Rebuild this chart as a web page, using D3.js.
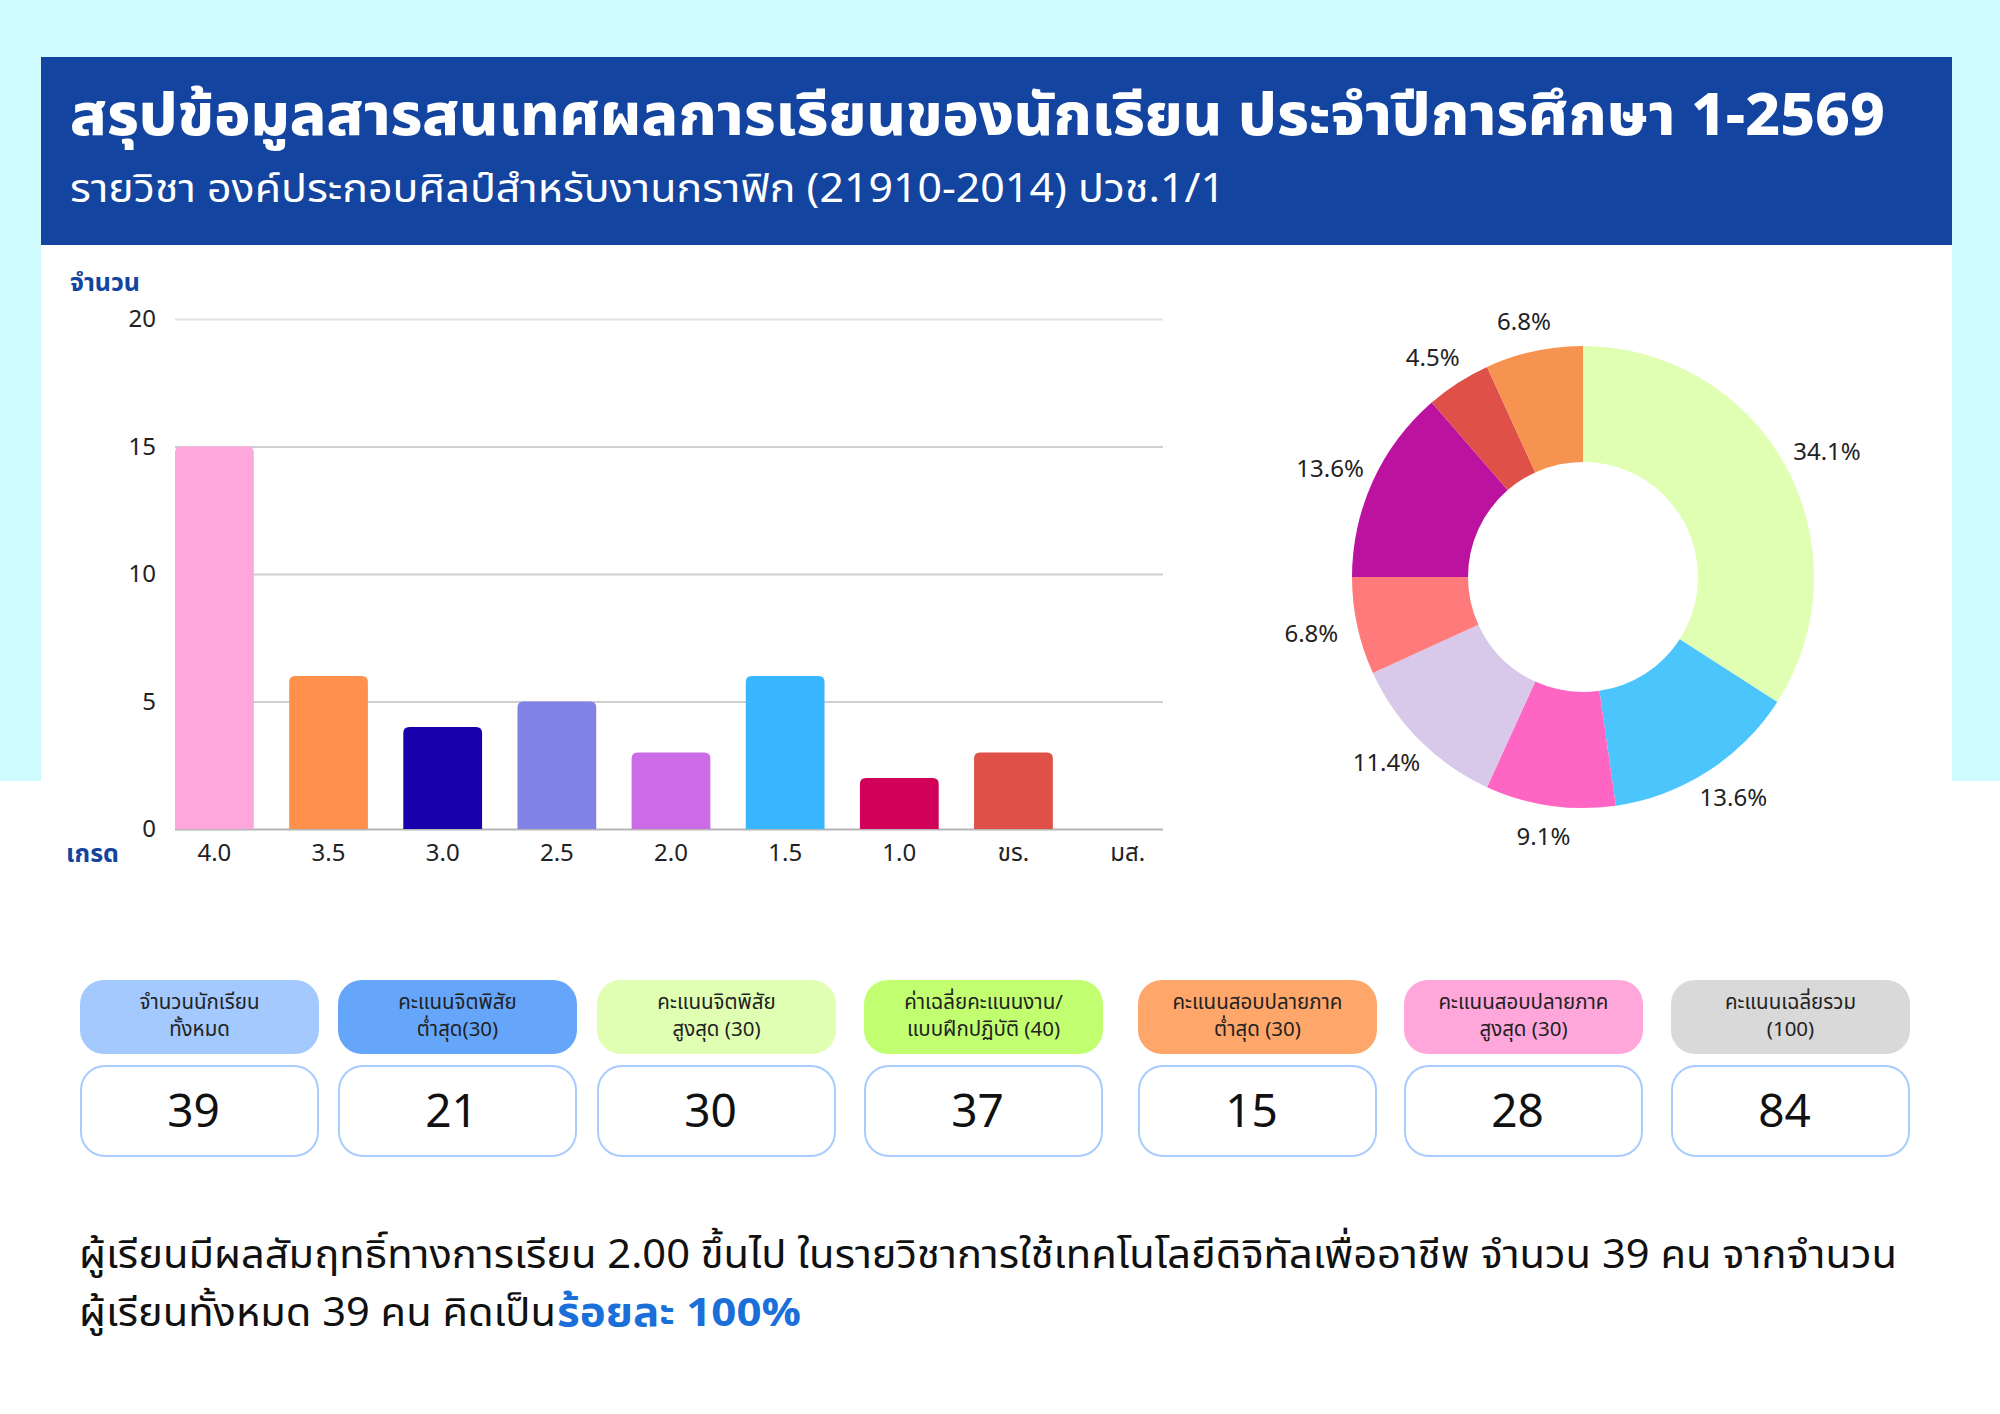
<!DOCTYPE html>
<html>
<head>
<meta charset="utf-8">
<script src="https://cdn.jsdelivr.net/npm/d3@7"></script>
<style>
  html, body { margin: 0; padding: 0; background: #ffffff; }
  svg { display: block; }
  text { font-family: "Noto Sans Thai", "Noto Sans Thai Looped", "Noto Sans", sans-serif; }
</style>
</head>
<body>
<div id="chart"></div>
<script>
// ---- data ----
const grades = ["4.0", "3.5", "3.0", "2.5", "2.0", "1.5", "1.0", "ขร.", "มส."];
const counts = [15, 6, 4, 5, 3, 6, 2, 3, 0];
const barColors = ["#fda7dc", "#ff914d", "#1800ad", "#8181e6", "#cb6ce6", "#38b6ff", "#d10058", "#df5049", "#999999"];
const pieColors = ["#e0ffb3", "#4cc5fc", "#ff66c4", "#d8c8ea", "#ff7a7a", "#bb13a0", "#df5049", "#f69351"];
const yTicks = [0, 5, 10, 15, 20];

const statLabels = [
  ["จำนวนนักเรียน", "ทั้งหมด"],
  ["คะแนนจิตพิสัย", "ต่ำสุด(30)"],
  ["คะแนนจิตพิสัย", "สูงสุด (30)"],
  ["ค่าเฉลี่ยคะแนนงาน/", "แบบฝึกปฏิบัติ (40)"],
  ["คะแนนสอบปลายภาค", "ต่ำสุด (30)"],
  ["คะแนนสอบปลายภาค", "สูงสุด (30)"],
  ["คะแนนเฉลี่ยรวม", "(100)"]
];
const statValues = [39, 21, 30, 37, 15, 28, 84];
const statColors = ["#a3c9ff", "#66a6fa", "#e0ffb3", "#c2ff70", "#ffa66b", "#ffa6da", "#d9d9d9"];

const title = "สรุปข้อมูลสารสนเทศผลการเรียนของนักเรียน ประจำปีการศึกษา 1-2569";
const subtitle = "รายวิชา องค์ประกอบศิลป์สำหรับงานกราฟิก (21910-2014) ปวช.1/1";
const summary1 = "ผู้เรียนมีผลสัมฤทธิ์ทางการเรียน 2.00 ขึ้นไป ในรายวิชาการใช้เทคโนโลยีดิจิทัลเพื่ออาชีพ จำนวน 39 คน จากจำนวน";
const summary2 = "ผู้เรียนทั้งหมด 39 คน คิดเป็น";
const summary2b = "ร้อยละ 100%";

// ---- page ----
const W = 2000, H = 1414;
const svg = d3.select("#chart").append("svg").attr("width", W).attr("height", H);

svg.append("rect").attr("width", W).attr("height", 781).attr("fill", "#cffafe");
svg.append("rect").attr("x", 41).attr("y", 57).attr("width", 1911).attr("height", H - 57).attr("fill", "#ffffff");
svg.append("rect").attr("x", 41).attr("y", 57).attr("width", 1911).attr("height", 188).attr("fill", "#1244a0");

svg.append("text").attr("x", 70).attr("y", 135)
  .attr("textLength", 1815).attr("lengthAdjust", "spacingAndGlyphs")
  .attr("fill", "#fff").attr("font-size", 58).attr("font-weight", 800).text(title);
svg.append("text").attr("x", 70).attr("y", 202)
  .attr("textLength", 1155).attr("lengthAdjust", "spacingAndGlyphs")
  .attr("fill", "#fff").attr("font-size", 40).text(subtitle);

// ---- bar chart ----
const x = d3.scaleBand().domain(grades).range([175, 1167]).paddingInner(0.31).paddingOuter(0);
const y = d3.scaleLinear().domain([0, 20]).range([829, 319]);

const yAxis = svg.append("g").attr("transform", "translate(175,0)")
  .call(d3.axisLeft(y).tickValues(yTicks).tickSize(-988).tickPadding(19));
yAxis.select(".domain").remove();
yAxis.selectAll(".tick line").attr("stroke", (d) => d === 0 ? "#b5b5b5" : (d === 20 ? "#e3e3e3" : "#cfcfcf")).attr("stroke-width", 2);
yAxis.selectAll(".tick text").attr("font-size", 24).attr("fill", "#222");

const topRounded = (x0, y0, w, h, r) => {
  if (h <= 0) return "";
  r = Math.min(r, h);
  return `M${x0},${y0 + h}V${y0 + r}Q${x0},${y0} ${x0 + r},${y0}H${x0 + w - r}Q${x0 + w},${y0} ${x0 + w},${y0 + r}V${y0 + h}Z`;
};

svg.selectAll(".bar").data(grades).enter().append("path")
  .attr("class", "bar")
  .attr("d", (g, i) => topRounded(x(g), y(counts[i]), x.bandwidth(), y(0) - y(counts[i]), 6))
  .attr("fill", (g, i) => barColors[i]);

const xAxis = svg.append("g").attr("transform", "translate(0,829)")
  .call(d3.axisBottom(x).tickSize(0).tickPadding(15));
xAxis.select(".domain").remove();
xAxis.selectAll(".tick text").attr("font-size", 24).attr("fill", "#222");

svg.append("text").attr("x", 70).attr("y", 291).attr("fill", "#1244a0")
  .attr("font-size", 25).attr("font-weight", 700).text("จำนวน");
svg.append("text").attr("x", 66).attr("y", 862).attr("fill", "#1244a0")
  .attr("font-size", 25).attr("font-weight", 700).text("เกรด");

// ---- donut ----
const total = d3.sum(counts);
const pieData = d3.pie().sort(null)(counts.slice(0, 8));
const arc = d3.arc().innerRadius(115).outerRadius(231);
const donut = svg.append("g").attr("transform", "translate(1583,577)");
donut.selectAll("path").data(pieData).enter().append("path")
  .attr("d", arc).attr("fill", (d, i) => pieColors[i]);
donut.selectAll("text").data(pieData).enter().append("text")
  .attr("x", (d) => {
    const a = (d.startAngle + d.endAngle) / 2;
    return Math.sin(a) * 262 + Math.sign(Math.sin(a)) * Math.abs(Math.sin(a)) * 16;
  })
  .attr("y", (d) => -Math.cos((d.startAngle + d.endAngle) / 2) * 262 + 9)
  .attr("text-anchor", "middle").attr("font-size", 24).attr("fill", "#222")
  .text((d) => (d.value / total * 100).toFixed(1) + "%");

// ---- stat boxes ----
const boxLeft = [80, 338, 597, 864, 1138, 1404, 1671];
const boxW = 239;
const stats = svg.selectAll(".stat").data(statValues).enter().append("g")
  .attr("class", "stat").attr("transform", (d, i) => `translate(${boxLeft[i]},0)`);
stats.append("rect").attr("y", 980).attr("width", boxW).attr("height", 74)
  .attr("rx", 24).attr("fill", (d, i) => statColors[i]);
stats.append("text").attr("x", boxW / 2).attr("y", 1009).attr("text-anchor", "middle")
  .attr("font-size", 20.5).attr("fill", "#222").text((d, i) => statLabels[i][0]);
stats.append("text").attr("x", boxW / 2).attr("y", 1036).attr("text-anchor", "middle")
  .attr("font-size", 20.5).attr("fill", "#222").text((d, i) => statLabels[i][1]);
stats.append("rect").attr("x", 1).attr("y", 1066).attr("width", boxW - 2).attr("height", 90)
  .attr("rx", 24).attr("fill", "#fff").attr("stroke", "#a8ccff").attr("stroke-width", 2);
stats.append("text").attr("x", boxW / 2 - 6).attr("y", 1127).attr("text-anchor", "middle")
  .attr("font-size", 46).attr("fill", "#111").text((d) => d);

// ---- summary ----
svg.append("text").attr("x", 79).attr("y", 1268)
  .attr("textLength", 1818).attr("lengthAdjust", "spacingAndGlyphs")
  .attr("font-size", 40).attr("fill", "#111").text(summary1);
svg.append("text").attr("x", 79).attr("y", 1326)
  .attr("textLength", 477).attr("lengthAdjust", "spacingAndGlyphs")
  .attr("font-size", 40).attr("fill", "#111").text(summary2);
svg.append("text").attr("x", 557).attr("y", 1326)
  .attr("textLength", 244).attr("lengthAdjust", "spacingAndGlyphs")
  .attr("font-size", 40).attr("fill", "#1a6fd9").attr("font-weight", 700).text(summary2b);
</script>
</body>
</html>
